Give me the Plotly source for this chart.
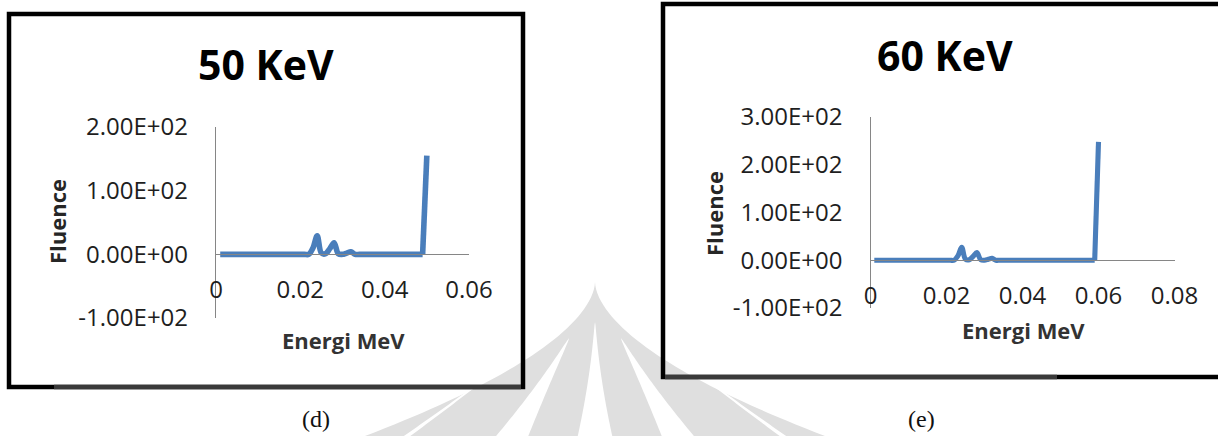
import plotly.graph_objects as go

W, H = 1218, 436

# --- data -------------------------------------------------------------
energy_60 = [0.001, 0.002, 0.003, 0.004, 0.005, 0.006, 0.007, 0.008, 0.009, 0.010,
             0.011, 0.012, 0.013, 0.014, 0.015, 0.016, 0.017, 0.018, 0.019, 0.020,
             0.021, 0.022, 0.023, 0.024, 0.025, 0.026, 0.027, 0.028, 0.029, 0.030,
             0.031, 0.032, 0.033, 0.034, 0.035, 0.036, 0.037, 0.038, 0.039, 0.040,
             0.041, 0.042, 0.043, 0.044, 0.045, 0.046, 0.047, 0.048, 0.049, 0.050,
             0.051, 0.052, 0.053, 0.054, 0.055, 0.056, 0.057, 0.058, 0.059, 0.060]
energy_50 = energy_60[:50]

fluence_50 = [0, 0, 0, 0, 0, 0, 0, 0, 0, 0,
              0, 0, 0, 0, 0, 0, 0, 0, 0, 0,
              0, 0, 10, 29, 2, 1, 9, 18, 1, 0,
              2, 4, 0, 0, 0, 0, 0, 0, 0, 0,
              0, 0, 0, 0, 0, 0, 0, 0, 0, 155]

fluence_60 = [0, 0, 0, 0, 0, 0, 0, 0, 0, 0,
              0, 0, 0, 0, 0, 0, 0, 0, 0, 0,
              0, 0, 9, 27, 2, 1, 8, 16, 1, 0,
              2, 4, 0, 0, 0, 0, 0, 0, 0, 0,
              0, 0, 0, 0, 0, 0, 0, 0, 0, 0,
              0, 0, 0, 0, 0, 0, 0, 0, 0, 248]

x_ticks_50 = [0, 0.02, 0.04, 0.06]
x_labels_50 = ["0", "0.02", "0.04", "0.06"]
x_ticks_60 = [0, 0.02, 0.04, 0.06, 0.08]
x_labels_60 = ["0", "0.02", "0.04", "0.06", "0.08"]
y_ticks_50 = [-100, 0, 100, 200]
y_ticks_60 = [-100, 0, 100, 200, 300]

titles = ["50 KeV", "60 KeV"]
captions = ["(d)", "(e)"]

LINE = "#4A7EBB"
AXIS = "#868686"
FONT = "Open Sans"


def fx(x):
    return x / W


def fy(y):
    return 1 - y / H


def sci(v):
    return f"{v:.2E}"


def add_spectrum(fig, energy, fluence, width, xa, ya):
    # smoothed body of the spectrum, straight final edge up to the peak
    fig.add_trace(go.Scatter(x=energy[:-1], y=fluence[:-1], mode="lines",
                             line=dict(color=LINE, width=width, shape="spline",
                                       smoothing=1.0),
                             xaxis=xa, yaxis=ya, hoverinfo="skip"))
    fig.add_trace(go.Scatter(x=energy[-2:], y=fluence[-2:], mode="lines",
                             line=dict(color=LINE, width=width),
                             xaxis=xa, yaxis=ya, hoverinfo="skip"))


fig = go.Figure()
add_spectrum(fig, energy_50, fluence_50, 5.6, "x", "y")
add_spectrum(fig, energy_60, fluence_60, 5.1, "x2", "y2")


def axes(xdom, ydom, xrange, yrange, xt, xl, yt, xanchor_name):
    # horizontal axis sits on the zero line, as in a spreadsheet chart
    pos = ydom[0] + (0 - yrange[0]) / (yrange[1] - yrange[0]) * (ydom[1] - ydom[0])
    tickfont = dict(family=FONT, size=24, color="#1e1e1e")
    xa = dict(domain=xdom, range=xrange, anchor="free", position=pos,
              showline=True, linecolor=AXIS, linewidth=1.3, showgrid=False,
              zeroline=False, ticks="", tickvals=xt, ticktext=xl,
              tickfont=tickfont, ticklabelstandoff=14, fixedrange=True,
              automargin=False)
    ya = dict(domain=ydom, range=yrange, anchor=xanchor_name, showline=True,
              linecolor=AXIS, linewidth=1.3, showgrid=False, zeroline=False,
              ticks="", tickvals=yt, ticktext=[sci(v) for v in yt],
              tickfont=tickfont, ticklabelstandoff=22, fixedrange=True,
              automargin=False)
    return xa, ya


xa1, ya1 = axes([fx(216), fx(469)], [fy(318), fy(127)], [0, 0.06], [-100, 200],
                x_ticks_50, x_labels_50, y_ticks_50, "x")
xa2, ya2 = axes([fx(870.5), fx(1174.5)], [fy(308), fy(117)], [0, 0.08], [-100, 300],
                x_ticks_60, x_labels_60, y_ticks_60, "x2")

shapes = []

# faint university emblem behind the page content: a pointed dome,
# split into petals by narrow white seams
EM_CX, EM_TOP, EM_BOT, EM_HALF, EM_POW = 595, 282, 436, 230, 1.15


def half_width(y):
    t = max(0.0, (y - EM_TOP) / (EM_BOT - EM_TOP))
    return EM_HALF * t ** EM_POW


def emblem_path(u_center, u_half, y_start, n=40):
    ys = [y_start + (EM_BOT - y_start) * i / n for i in range(n + 1)]
    left, right = [], []
    for y in ys:
        w = half_width(y)
        taper = ((y - y_start) / (EM_BOT - y_start)) ** 0.6
        g = u_half * taper
        left.append((EM_CX + (u_center - g) * w, y))
        right.append((EM_CX + (u_center + g) * w, y))
    pts = left + right[::-1]
    return "M " + " L ".join(f"{fx(x):.5f},{fy(y):.5f}" for x, y in pts) + " Z"


shapes.append(dict(type="path", xref="paper", yref="paper",
                   path=emblem_path(0.0, 1.0, EM_TOP),
                   fillcolor="#dfdfdf", line=dict(width=0), layer="below"))
for uc, uh, ys in [(0.0, 0.075, 322), (-0.36, 0.07, 338), (0.36, 0.07, 338),
                   (-0.817, 0.014, 345), (0.817, 0.014, 345)]:
    shapes.append(dict(type="path", xref="paper", yref="paper",
                       path=emblem_path(uc, uh, ys),
                       fillcolor="#ffffff", line=dict(width=0), layer="below"))

# panel frames
shapes.append(dict(type="rect", xref="paper", yref="paper",
                   x0=fx(9), x1=fx(523), y0=fy(387), y1=fy(14),
                   line=dict(color="#000000", width=4.5)))
shapes.append(dict(type="line", xref="paper", yref="paper",
                   x0=fx(54), x1=fx(521), y0=fy(387), y1=fy(387),
                   line=dict(color="#3a3a3a", width=4.5)))
shapes.append(dict(type="rect", xref="paper", yref="paper",
                   x0=fx(663), x1=fx(1232), y0=fy(377), y1=fy(4),
                   line=dict(color="#000000", width=4.5)))
shapes.append(dict(type="line", xref="paper", yref="paper",
                   x0=fx(665), x1=fx(1057), y0=fy(377), y1=fy(377),
                   line=dict(color="#3a3a3a", width=4.5)))

ann = []


def text(x, y, s, size, bold=False, color="#000000", angle=0, family=FONT):
    ann.append(dict(x=fx(x), y=fy(y), xref="paper", yref="paper", text=s,
                    showarrow=False, xanchor="center", yanchor="middle",
                    textangle=angle,
                    font=dict(family=family, size=size, color=color,
                              weight="bold" if bold else "normal")))


text(266, 64, titles[0], 41, bold=True)
text(945, 55, titles[1], 41, bold=True)
text(57, 222, "Fluence", 22, bold=True, color="#262626", angle=-90)
text(714, 213, "Fluence", 22, bold=True, color="#262626", angle=-90)
text(343, 340, "Energi MeV", 22, bold=True, color="#333333")
text(1023, 330, "Energi MeV", 22, bold=True, color="#333333")
text(316, 419, captions[0], 24, family="Liberation Serif", color="#111111")
text(921, 419, captions[1], 24, family="Liberation Serif", color="#111111")

fig.update_layout(
    width=W, height=H, margin=dict(l=0, r=0, t=0, b=0, autoexpand=False),
    paper_bgcolor="white", plot_bgcolor="rgba(0,0,0,0)",
    showlegend=False,
    xaxis=xa1, yaxis=ya1, xaxis2=xa2, yaxis2=ya2,
    shapes=shapes, annotations=ann,
)

fig.write_html("out.html", config={"displayModeBar": False})
